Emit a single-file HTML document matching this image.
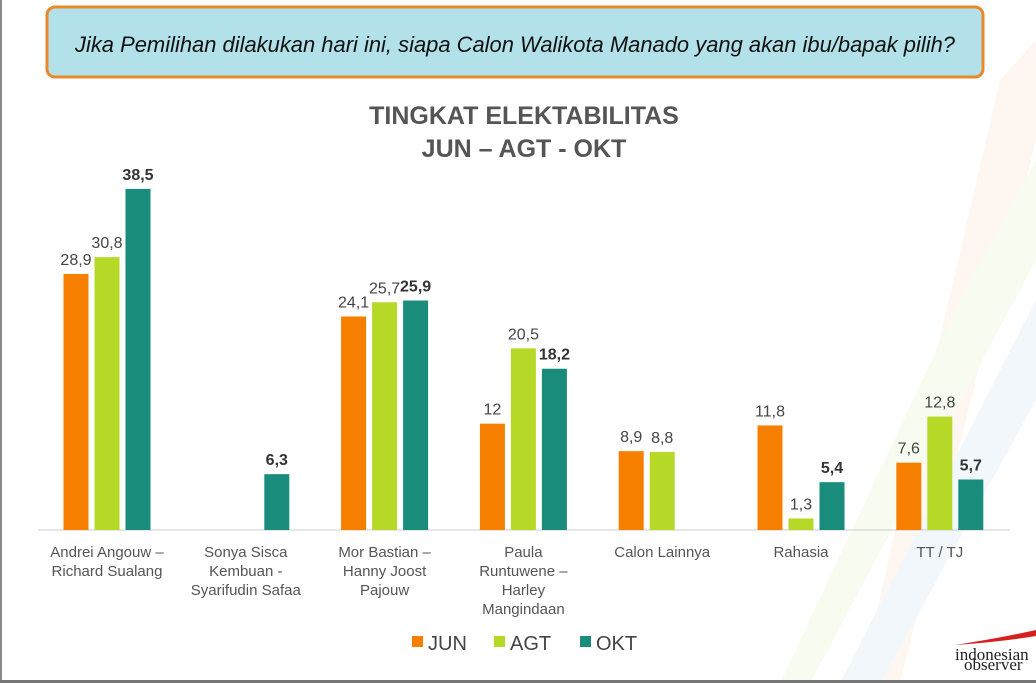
<!DOCTYPE html>
<html><head><meta charset="utf-8">
<style>
body{margin:0;width:1036px;height:683px;overflow:hidden;background:#fff;font-family:"Liberation Sans",sans-serif;position:relative}
</style></head>
<body>
<svg width="1036" height="683" style="position:absolute;left:0;top:0">
<g opacity="0.35">
<polygon points="1000,80 1036,40 1036,140 900,683 860,683" fill="#fde9d8"/>
<polygon points="960,300 1036,160 1036,260 810,683 780,683" fill="#eaf4d6"/>
<polygon points="1036,300 1036,400 880,683 840,683" fill="#d8eaf4"/>
</g>
<rect x="0" y="0" width="2" height="683" fill="#888"/>
<rect x="0" y="680" width="1036" height="3" fill="#777"/>
<rect x="47" y="7" width="936" height="70" rx="8" fill="#b3e1ea" stroke="#e8892b" stroke-width="3"/>
<text x="515" y="52" text-anchor="middle" font-size="22" font-style="italic" fill="#111" textLength="880" lengthAdjust="spacingAndGlyphs">Jika Pemilihan dilakukan hari ini, siapa Calon Walikota Manado yang akan ibu/bapak pilih?</text>
<text x="524" y="124" text-anchor="middle" font-size="25" font-weight="bold" fill="#555">TINGKAT ELEKTABILITAS</text>
<text x="524" y="157" text-anchor="middle" font-size="25" font-weight="bold" fill="#555">JUN – AGT - OKT</text>
<line x1="38" y1="530" x2="1010" y2="530" stroke="#ccc"/>
<g id="bars"></g>
<g id="labels"></g>
<g>
<rect x="412" y="636" width="11" height="11" fill="#f77f00"/>
<text x="428" y="650" font-size="20" fill="#444">JUN</text>
<rect x="494" y="636" width="11" height="11" fill="#b5d926"/>
<text x="510" y="650" font-size="20" fill="#444">AGT</text>
<rect x="580" y="636" width="11" height="11" fill="#1a8c7c"/>
<text x="596" y="650" font-size="20" fill="#444">OKT</text>
</g>
<g>
<path d="M955,645 Q1000,638 1036,630 L1036,636 Q1000,642 955,645Z" fill="#d62020"/>
<text x="955" y="660" font-family="Liberation Serif,serif" font-size="17" fill="#222">indonesian</text>
<text x="964" y="670" font-family="Liberation Serif,serif" font-size="17" fill="#222">observer</text>
</g>
</svg>
<script>
const categories=[["Andrei Angouw –","Richard Sualang"],["Sonya Sisca","Kembuan -","Syarifudin Safaa"],["Mor Bastian –","Hanny Joost","Pajouw"],["Paula","Runtuwene –","Harley","Mangindaan"],["Calon Lainnya"],["Rahasia"],["TT / TJ"]];
const jun=[28.9,null,24.1,12,8.9,11.8,7.6];
const agt=[30.8,null,25.7,20.5,8.8,1.3,12.8];
const okt=[38.5,6.3,25.9,18.2,null,5.4,5.7];
const NS="http://www.w3.org/2000/svg";
const y=v=>530-v*8.86;
const xc=i=>107+i*138.8;
const series=[[jun,"#f77f00","jun",false],[agt,"#b5d926","agt",false],[okt,"#1a8c7c","okt",true]];
const bars=document.getElementById('bars'),labels=document.getElementById('labels');
const fmt=v=>String(v).replace('.',',');
series.forEach(([arr,col,nm,bold],s)=>{
arr.forEach((v,i)=>{
if(v==null)return;
const x=xc(i)+(s-1)*31-12.5;
const r=document.createElementNS(NS,'rect');
r.setAttribute('x',x);r.setAttribute('y',y(v));r.setAttribute('width',25);r.setAttribute('height',530-y(v));r.setAttribute('fill',col);


bars.appendChild(r);
const t=document.createElementNS(NS,'text');
t.setAttribute('x',x+12.5);t.setAttribute('y',y(v)-9);t.setAttribute('text-anchor','middle');t.setAttribute('font-size','16');t.setAttribute('fill',bold?'#333':'#444');
if(bold)t.setAttribute('font-weight','bold');
t.textContent=fmt(v);


labels.appendChild(t);
});
});
categories.forEach((lines,i)=>{
lines.forEach((ln,j)=>{
const t=document.createElementNS(NS,'text');
t.setAttribute('x',xc(i));t.setAttribute('y',557+j*19);t.setAttribute('text-anchor','middle');t.setAttribute('font-size','15');t.setAttribute('fill','#555');
t.textContent=ln;


labels.appendChild(t);
});
});
</script>
</body></html>
